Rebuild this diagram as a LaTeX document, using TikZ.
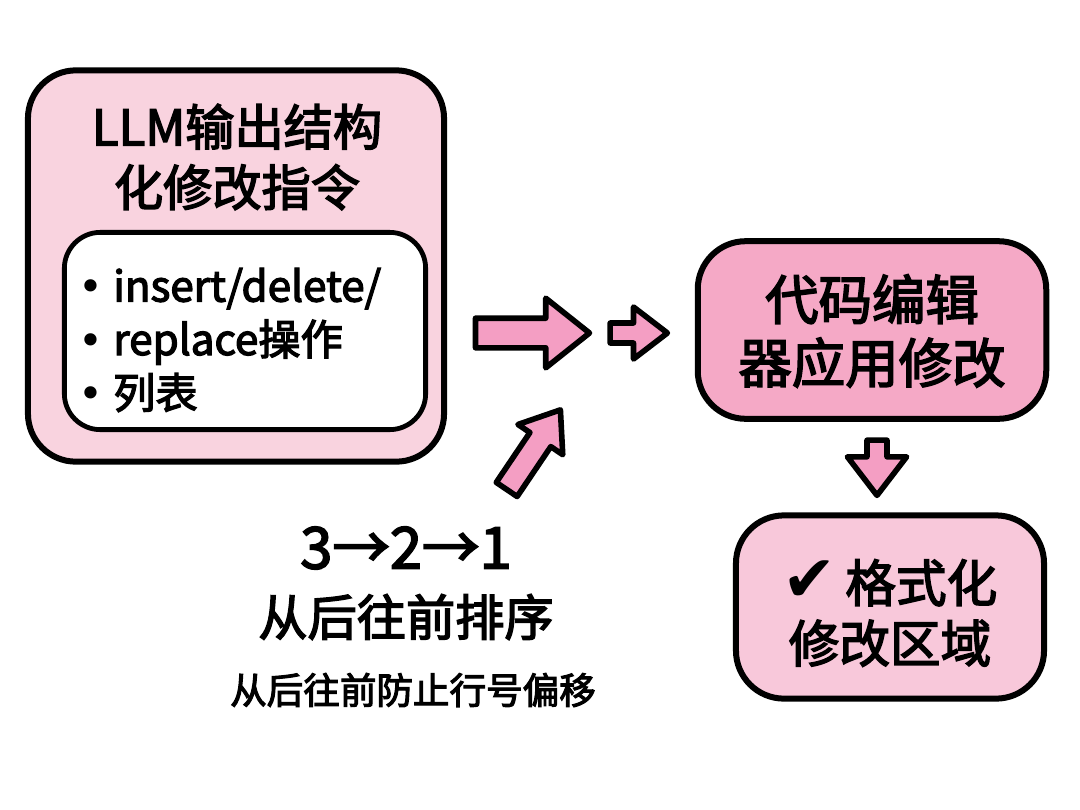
\documentclass[tikz,border=0pt]{standalone}
\usepackage{fontspec}
\setmainfont{Noto Sans CJK SC}
\newfontfamily\medfont[FakeBold=3]{Noto Sans CJK SC}
\newfontfamily\symfont{DejaVu Sans}
\usepackage{tikz}
\usetikzlibrary{shapes.arrows}

\definecolor{pinkLight}{HTML}{F9D3DF}
\definecolor{pinkMid}{HTML}{F5A9C6}
\definecolor{pinkSoft}{HTML}{F8C8DA}
\definecolor{pinkArr}{HTML}{F49EC3}

\begin{document}
\begin{tikzpicture}[x=0.025cm, y=-0.025cm,
  box/.style={draw, line width=0.15cm, rounded corners=1.2cm, align=center, inner sep=0pt},
  fat/.style={single arrow, draw, line width=0.14cm, fill=pinkArr, line join=round, inner sep=0pt, anchor=tip}]
\useasboundingbox[fill=white] (0,0) rectangle (1080,810);

% left block: structured edit instructions
\node[box, fill=pinkLight, minimum width=10.4cm, minimum height=9.78cm] (plan) at (236,266) {};
\node[font=\medfont\fontsize{35}{43}\selectfont, align=center] (planTitle) at (237,157) {LLM输出结构\\化修改指令};
\node[box, fill=white, line width=0.12cm, rounded corners=0.9cm, minimum width=9.03cm, minimum height=4.93cm] (ops) at (245,331) {};
\node[font=\medfont\fontsize{30}{38}\selectfont, align=left, anchor=west] (opsList) at (74,340) {{\symfont •} insert/delete/\\{\symfont •} replace操作\\{\symfont •} 列表};

% sorting note
\node[font=\medfont\fontsize{41}{42}\selectfont] (order) at (406,548) {3→2→1};
\node[font=\medfont\fontsize{35}{36}\selectfont] (orderLabel) at (406,617) {从后往前排序};
\node[font=\medfont\fontsize{26}{28}\selectfont] (orderNote) at (413,690) {从后往前防止行号偏移};

% right blocks
\node[box, fill=pinkMid, minimum width=8.71cm, minimum height=4.44cm] (apply) at (872,330) {};
\node[font=\medfont\fontsize{38}{45}\selectfont, align=center] (applyText) at (872,331) {代码编辑\\器应用修改};
\node[box, fill=pinkSoft, minimum width=7.7cm, minimum height=4.58cm] (format) at (890,607) {};
\node[font=\medfont\fontsize{36}{43}\selectfont, align=center] (formatText) at (890,613) {{\symfont\fontsize{46}{40}\selectfont ✔}\,格式化\\修改区域};

% fat arrows
\node[fat, minimum height=2.85cm, single arrow head extend=0.5cm, single arrow tip angle=77, inner ysep=0.3cm] (arrMain) at (594,333) {};
\node[fat, minimum height=1.43cm, single arrow head extend=0.4cm, single arrow tip angle=75, inner ysep=0.18cm] (arrSmall) at (672,333) {};
\node[fat, rotate=56, minimum height=2.4cm, single arrow head extend=0.36cm, single arrow tip angle=74, inner ysep=0.245cm] (arrUp) at (563,406) {};
\node[fat, rotate=-90, minimum height=1.38cm, single arrow head extend=0.49cm, single arrow tip angle=75, inner ysep=0.18cm] (arrDown) at (877,500) {};
\end{tikzpicture}
\end{document}
